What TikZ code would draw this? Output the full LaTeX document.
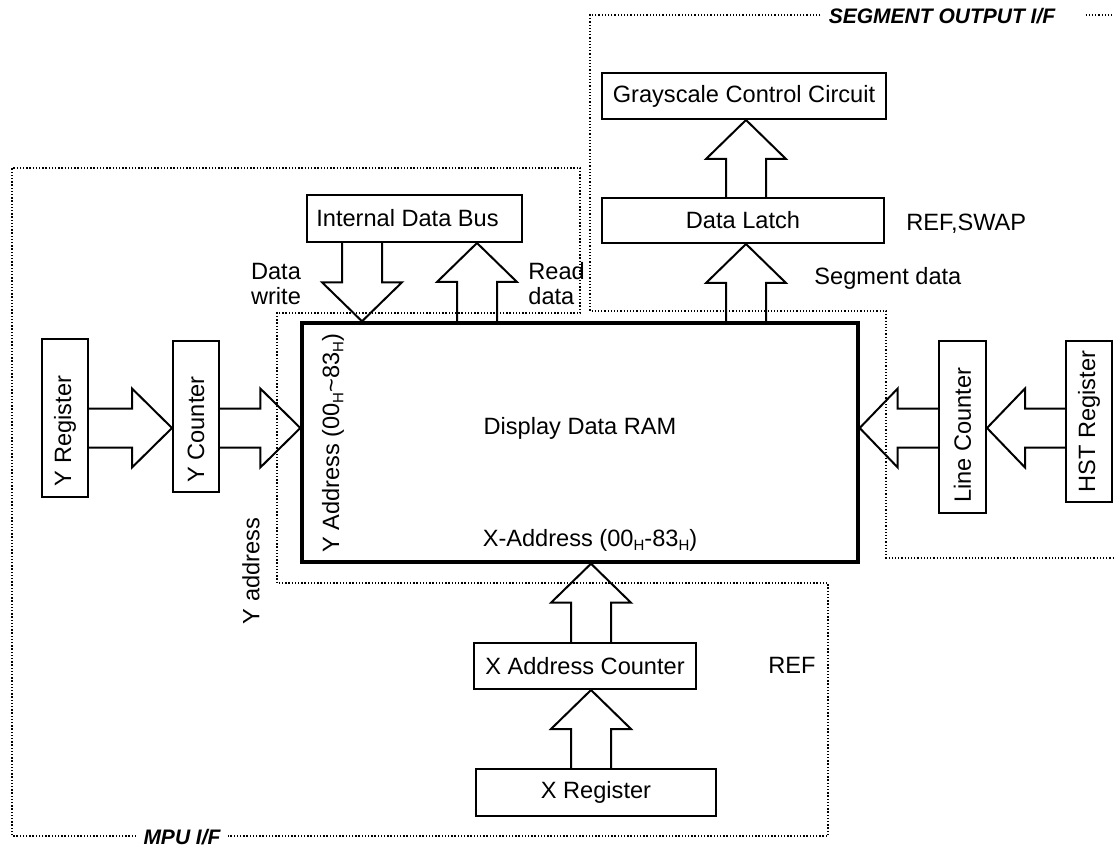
\documentclass[tikz,border=0pt]{standalone}
\usepackage{fontspec}
\setmainfont{Liberation Sans}
\usetikzlibrary{calc}
\newcommand\bodyfont{\fontsize{11.8}{12.5}\selectfont}
\newcommand\iffont{\fontsize{10.5}{12}\selectfont\bfseries\itshape}
\newcommand\subH{\raisebox{-0.35ex}{\fontsize{7.5}{8}\selectfont H}}
% block arrows: #1 tip, #2 base
\newcommand\blkup[2]{\draw[barrow] ($(#2)+(-20,0)$) -- ($(#1)+(-20,39)$) -- ($(#1)+(-40,39)$) -- (#1) -- ($(#1)+(40,39)$) -- ($(#1)+(20,39)$) -- ($(#2)+(20,0)$);}
\newcommand\blkdown[2]{\draw[barrow] ($(#2)+(-20,0)$) -- ($(#1)+(-20,-39)$) -- ($(#1)+(-40,-39)$) -- (#1) -- ($(#1)+(40,-39)$) -- ($(#1)+(20,-39)$) -- ($(#2)+(20,0)$);}
\newcommand\blkright[2]{\draw[barrow] ($(#2)+(0,-19.5)$) -- ($(#1)+(-40,-19.5)$) -- ($(#1)+(-40,-39.5)$) -- (#1) -- ($(#1)+(-40,39.5)$) -- ($(#1)+(-40,19.5)$) -- ($(#2)+(0,19.5)$);}
\newcommand\blkleft[2]{\draw[barrow] ($(#2)+(0,-19.5)$) -- ($(#1)+(38,-19.5)$) -- ($(#1)+(38,-39.5)$) -- (#1) -- ($(#1)+(38,39.5)$) -- ($(#1)+(38,19.5)$) -- ($(#2)+(0,19.5)$);}
\begin{document}
\begin{tikzpicture}[x=0.5pt,y=-0.5pt,
  box/.style={draw, line width=1pt, inner sep=0pt, font=\bodyfont},
  rambox/.style={draw, line width=1.7pt, inner sep=0pt},
  lbl/.style={inner sep=0pt, font=\bodyfont},
  ifl/.style={inner sep=0pt, font=\iffont},
  dots/.style={line width=0.65pt, dash pattern=on 0.65pt off 0.95pt},
  barrow/.style={line width=1pt, line join=miter, miter limit=10}]
\useasboundingbox (0,0) rectangle (1114,850);

% boxes
\node[rambox, minimum width=278pt, minimum height=119.5pt] (ram) at (580,442.5) {};
\node[box, minimum width=107.5pt, minimum height=23.5pt] (idb) at (414.5,218.5) {Internal Data Bus\kern7pt};
\node[box, minimum width=142pt, minimum height=23pt] (gcc) at (744,96) {Grayscale Control Circuit};
\node[box, minimum width=141pt, minimum height=22.5pt] (dl) at (743,220.5) {Data Latch};
\node[box, minimum width=111pt, minimum height=23pt] (xac) at (585,666) {X Address Counter};
\node[box, minimum width=120pt, minimum height=23.5pt] (xreg) at (596,792.5) {X Register};
\node[box, minimum width=23pt, minimum height=79pt] (yreg) at (65,418) {\rotatebox{90}{Y Register\kern13pt}};
\node[box, minimum width=23pt, minimum height=75.5pt] (ycnt) at (196,416.5) {\rotatebox{90}{Y Counter\kern13pt}};
\node[box, minimum width=23.5pt, minimum height=86pt] (lcnt) at (962.5,427) {\rotatebox{90}{Line Counter\kern8pt}};
\node[box, minimum width=23pt, minimum height=80.5pt] (hst) at (1089,421.5) {\rotatebox{90}{HST Register}};

% texts
\node[lbl] (ramt) at (580,428) {Display Data RAM};
\node[lbl, rotate=90] (yadr) at (333,443) {Y Address (00\subH\textasciitilde83\subH)};
\node[lbl] (xadr) at (590,540) {X-Address (00\subH-83\subH)};
\node[lbl, rotate=90] (yad) at (251,571) {Y address};
\node[lbl, align=center] (dw) at (276,284) {Data\\write};
\node[lbl, align=left, anchor=west] (rd) at (528,284) {Read\\data};
\node[lbl, anchor=west] (sd) at (814,278) {Segment data};
\node[lbl, anchor=west] (rs) at (906,224) {REF,SWAP};
\node[lbl, anchor=west] (ref) at (768,665) {REF};
\node[ifl] (mpu) at (182,837) {MPU I/F};
\node[ifl] (seg) at (942,16) {SEGMENT OUTPUT I/F};

% arrow anchor coordinates
\coordinate (cy) at (0,428);
\coordinate (cx1) at (362,0);
\coordinate (cx2) at (477,0);
\coordinate (cx3) at (746,0);
\coordinate (cx4) at (591,0);
\coordinate (a1b) at (yreg.east |- cy);  \coordinate (a1t) at (ycnt.west |- cy);
\coordinate (a2b) at (ycnt.east |- cy);  \coordinate (a2t) at (ram.west |- cy);
\coordinate (a3b) at (lcnt.west |- cy);  \coordinate (a3t) at (ram.east |- cy);
\coordinate (a4b) at (hst.west |- cy);   \coordinate (a4t) at (lcnt.east |- cy);
\coordinate (a5b) at (idb.south -| cx1); \coordinate (a5t) at (ram.north -| cx1);
\coordinate (a6b) at (ram.north -| cx2); \coordinate (a6t) at (idb.south -| cx2);
\coordinate (a7b) at (ram.north -| cx3); \coordinate (a7t) at (dl.south -| cx3);
\coordinate (a8b) at (dl.north -| cx3);  \coordinate (a8t) at (gcc.south -| cx3);
\coordinate (a9b) at (xac.north -| cx4); \coordinate (a9t) at (ram.south -| cx4);
\coordinate (a10b) at (xreg.north -| cx4); \coordinate (a10t) at (xac.south -| cx4);

\blkright{a1t}{a1b}
\blkright{a2t}{a2b}
\blkleft{a3t}{a3b}
\blkleft{a4t}{a4b}
\blkdown{a5t}{a5b}
\blkup{a6t}{a6b}
\blkup{a7t}{a7b}
\blkup{a8t}{a8b}
\blkup{a9t}{a9b}
\blkup{a10t}{a10b}

% interface regions
\coordinate (mpuL) at ($(mpu.west)+(-7,0)$);
\coordinate (mpuR) at ($(mpu.east)+(7,0)$);
\coordinate (segL) at ($(seg.west)+(-8,0)$);
\coordinate (segR) at ($(seg.east)+(30,0)$);
\coordinate (lowy) at (0,836);
\coordinate (topy) at (0,15);
\draw[dots] (mpuL |- lowy) -- (12,836) -- (12,168) -- (580,168) -- (580,313) -- (277,313) -- (277,583) -- (828,583) -- (828,836) -- (mpuR |- lowy);
\draw[dots] (segL |- topy) -- (590,15) -- (590,311) -- (886,311) -- (886,558) -- (1114,558);
\draw[dots] (segR |- topy) -- (1114,15);
\end{tikzpicture}
\end{document}
